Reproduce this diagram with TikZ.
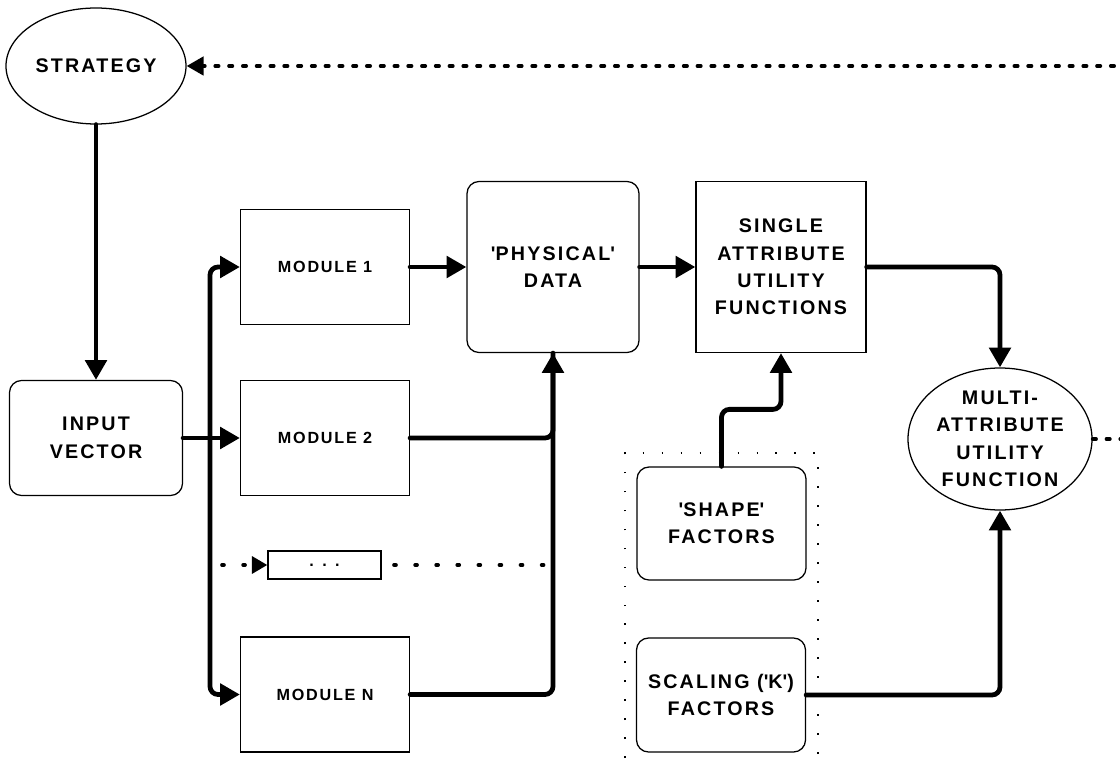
\documentclass[tikz,border=0pt]{standalone}
\usepackage{fontspec}
\setmainfont{Liberation Sans}[LetterSpace=11]
\usetikzlibrary{arrows.meta,shapes.geometric}

% straight quote mark
\newcommand{\sq}{\textquotesingle}

\tikzset{
  box/.style={draw,line width=0.9pt,minimum width=4.225cm,minimum height=2.875cm,
    align=center,inner sep=2pt,font=\bfseries\fontsize{14}{19.5}\selectfont},
  roundbox/.style={box,rounded corners=0.3cm},
  modbox/.style={box,font=\bfseries\fontsize{11.5}{14}\selectfont},
  oval/.style={draw,ellipse,line width=0.9pt,inner sep=0pt,align=center,
    font=\bfseries\fontsize{14}{19.5}\selectfont},
  flow/.style={line width=3.4pt,line cap=round,rounded corners=0.2cm,
    -{Triangle[length=14pt,width=15pt]}},
  link/.style={line width=3.4pt,line cap=round,rounded corners=0.2cm},
  dots/.style={line width=2.5pt,line cap=round,dash pattern=on 2.5pt off 7.3pt},
  sparsedots/.style={line width=2.6pt,line cap=round,dash pattern=on 1.4pt off 13.6pt},
  groupframe/.style={line width=0.8pt,dash pattern=on 1.2pt off 12.3pt},
}

\begin{document}
\begin{tikzpicture}

% white page of fixed size
\useasboundingbox (0,0) rectangle (28,19.125);

% left column
\node[oval,minimum width=4.5cm,minimum height=2.9cm] (strategy) at (2.4,17.475) {STRATEGY};
\node[roundbox,minimum width=4.325cm] (input) at (2.4,8.175) {INPUT\\VECTOR};

% the modules
\node[modbox] (mod1) at (8.125,12.45) {MODULE 1};
\node[modbox] (mod2) at (8.125,8.175) {MODULE 2};
\node[draw,line width=0.9pt,minimum width=2.825cm,minimum height=0.7cm,inner sep=0pt,
  font=\bfseries\fontsize{11.5}{14}\selectfont] (etc) at (8.1125,5.0) {. . .};
\node[modbox] (modN) at (8.125,1.7625) {MODULE N};

% data and utility boxes
\node[roundbox,minimum width=4.3cm,minimum height=4.275cm] (phys) at (13.825,12.45) {\sq PHYSICAL\sq\\DATA};
\node[box,minimum width=4.25cm,minimum height=4.275cm] (sauf) at (19.525,12.45) {SINGLE\\ATTRIBUTE\\UTILITY\\FUNCTIONS};
\node[oval,minimum width=4.6cm,minimum height=3.55cm] (mauf) at (25.0,8.15) {MULTI-\\ATTRIBUTE\\UTILITY\\FUNCTION};

% factor boxes inside the dotted frame
\draw[groupframe] (15.625,-0.3) rectangle (20.45,7.8);
\node[roundbox,minimum height=2.825cm] (shape) at (18.0375,6.0375) {\sq SHAPE\sq\\FACTORS};
\node[roundbox,minimum height=2.85cm] (scaling) at (18.025,1.75) {SCALING (\sq K\sq)\\FACTORS};

% free ends of the dotted lines
\coordinate (back) at (28.2,17.475);
\coordinate (out) at (28.2,8.15);
\coordinate (bus) at (5.25,8.175);
\coordinate (etcin) at (5.55,5.0);
\coordinate (etcout) at (9.85,5.0);
\coordinate (etcend) at (13.6,5.0);

% connectors
\draw[flow] (strategy.south) -- (input.north);
\draw[link] (input.east) -- (bus);
\draw[flow] (bus) -- (mod2.west);
\draw[flow] (bus) |- (mod1.west);
\draw[flow] (bus) |- (modN.west);

\draw[sparsedots,-{Triangle[length=11pt,width=12pt]}] (etcin) -- (etc.west);
\draw[sparsedots] (etcout) -- (etcend);

\draw[flow] (mod1.east) -- (phys.west);
\draw[link] (mod2.east) -| (phys.south);
\draw[flow] (modN.east) -| (phys.south);
\draw[flow] (phys.east) -- (sauf.west);
\draw[flow] (sauf.east) -| (mauf.north);
\draw[flow] (shape.north) -- ++(0,1.425) -| (sauf.south);
\draw[flow] (scaling.east) -| (mauf.south);

% feedback to the strategy
\draw[dots,-{Triangle[length=12pt,width=13pt]}] (back) -- (strategy.east);
\draw[dots] (mauf.east) -- (out);

\end{tikzpicture}
\end{document}
